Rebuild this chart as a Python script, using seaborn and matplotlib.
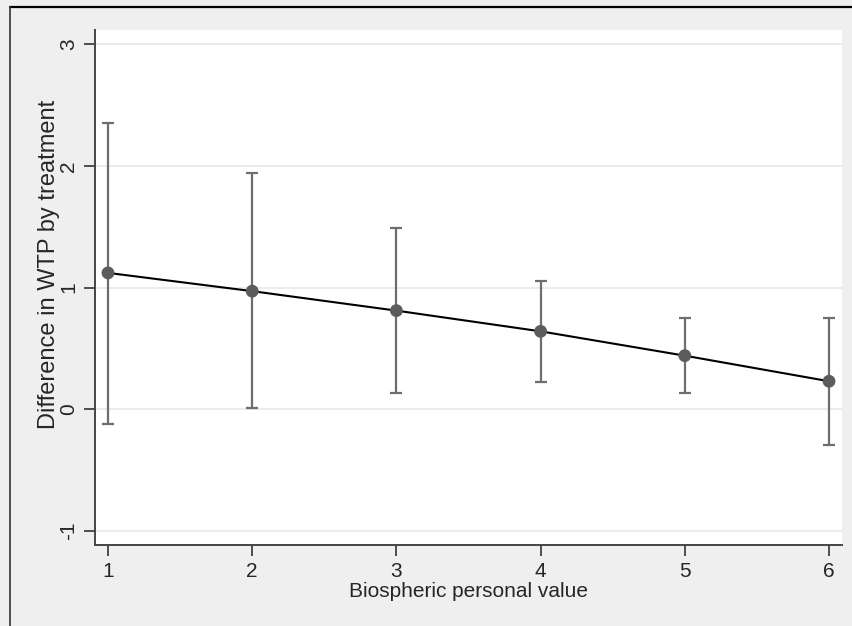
import numpy as np
import pandas as pd
import matplotlib
matplotlib.use("Agg")
import matplotlib.pyplot as plt
from matplotlib.lines import Line2D
import seaborn as sns

# ---- Data
bio_value = [1, 2, 3, 4, 5, 6]
wtp_diff  = [1.12, 0.97, 0.81, 0.64, 0.44, 0.23]
ci_low    = [-0.12, 0.01, 0.13, 0.22, 0.13, -0.29]
ci_high   = [2.35, 1.94, 1.49, 1.05, 0.75, 0.75]

df = pd.DataFrame({"x": bio_value, "y": wtp_diff, "lo": ci_low, "hi": ci_high})

sns.set_theme(style="white")
plt.rcParams["font.family"] = ["Liberation Sans", "DejaVu Sans"]

BG = "#efefef"
fig = plt.figure(figsize=(8.53, 6.26), dpi=100, facecolor=BG)
ax = fig.add_axes([95 / 853, 81 / 626, 747 / 853, 515 / 626])
ax.set_facecolor("white")

# gridlines at y ticks
for yv in [-1, 0, 1, 2, 3]:
    ax.axhline(yv, color="#eaeaea", lw=1.3, zorder=0)

# confidence intervals
ax.errorbar(df["x"], df["y"], yerr=[df["y"] - df["lo"], df["hi"] - df["y"]],
            fmt="none", ecolor="#6e6e6e", elinewidth=1.6, capsize=4.2,
            capthick=1.6, zorder=2)

sns.lineplot(data=df, x="x", y="y", color="black", lw=1.5, ax=ax, zorder=3)
sns.scatterplot(data=df, x="x", y="y", color="#5c5c5c", s=85,
                edgecolor="none", ax=ax, zorder=4)

ax.set_xlim(0.91, 6.09)
ax.set_ylim(-1.115, 3.115)
ax.set_xticks(bio_value)
ax.set_yticks([-1, 0, 1, 2, 3])
ax.set_yticklabels(["-1", "0", "1", "2", "3"], rotation=90, va="center")
ax.tick_params(axis="both", direction="out", length=8, width=1.2,
               color="#333333", labelsize=15, pad=4, left=True, bottom=True)
ax.set_xlabel("Biospheric personal value", fontsize=15, labelpad=1)
ax.set_ylabel("Difference in WTP by treatment", fontsize=17)
ax.yaxis.set_label_coords(-0.047, 0.544)

for side in ["top", "right"]:
    ax.spines[side].set_visible(False)
for side in ["left", "bottom"]:
    ax.spines[side].set_color("#444444")
    ax.spines[side].set_linewidth(1.4)

# outer frame lines (top and left visible)
fig.add_artist(Line2D([10 / 853, 1], [1 - 7 / 626, 1 - 7 / 626],
                      transform=fig.transFigure, color="black", lw=1.6))
fig.add_artist(Line2D([10 / 853, 10 / 853], [0, 1 - 7 / 626],
                      transform=fig.transFigure, color="#333333", lw=1.2))

fig.savefig("out.png", dpi=100, facecolor=BG)
